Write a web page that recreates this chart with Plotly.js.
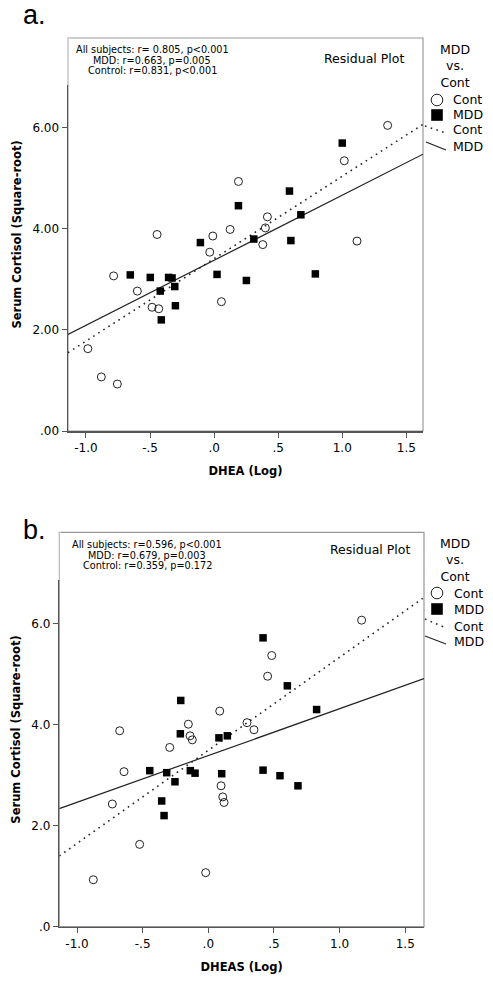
<!DOCTYPE html>
<html><head><meta charset="utf-8">
<script src="https://cdn.plot.ly/plotly-3.0.1.min.js"></script>
<style>html,body{margin:0;padding:0;background:#fff}</style>
</head><body><div id="chart" style="width:493px;height:984px"></div>
<script>
// ---------- Panel a: DHEA (Log) vs Serum Cortisol (Square-root) ----------
const dheaContX = [-0.985, -0.88, -0.755, -0.784, -0.599, -0.484, -0.432, -0.445, -0.034, -0.01, 0.057, 0.125, 0.19, 0.38, 0.40, 0.416, 1.016, 1.115, 1.354];
const dheaContY = [1.63, 1.07, 0.93, 3.07, 2.77, 2.45, 2.42, 3.89, 3.54, 3.86, 2.56, 3.99, 4.94, 3.69, 4.02, 4.24, 5.35, 3.76, 6.05];
const dheaMddX = [-0.654, -0.498, -0.355, -0.328, -0.42, -0.307, -0.302, -0.412, -0.107, 0.023, 0.19, 0.252, 0.31, 0.588, 0.599, 0.677, 0.79, 1.0];
const dheaMddY = [3.09, 3.04, 3.04, 3.03, 2.77, 2.86, 2.48, 2.20, 3.73, 3.10, 4.46, 2.98, 3.80, 4.75, 3.77, 4.28, 3.11, 5.70];

// ---------- Panel b: DHEAS (Log) vs Serum Cortisol (Square-root) ----------
const dheasContX = [-0.876, -0.731, -0.675, -0.642, -0.523, -0.294, -0.152, -0.139, -0.122, -0.02, 0.087, 0.097, 0.11, 0.12, 0.295, 0.348, 0.452, 0.483, 1.168];
const dheasContY = [0.93, 2.43, 3.88, 3.07, 1.63, 3.55, 4.01, 3.78, 3.70, 1.07, 4.27, 2.79, 2.57, 2.46, 4.04, 3.90, 4.96, 5.37, 6.07];
const dheasMddX = [-0.446, -0.355, -0.337, -0.317, -0.254, -0.213, -0.21, -0.137, -0.101, 0.081, 0.102, 0.145, 0.417, 0.417, 0.546, 0.602, 0.683, 0.825];
const dheasMddY = [3.09, 2.49, 2.20, 3.05, 2.87, 3.82, 4.48, 3.09, 3.04, 3.74, 3.03, 3.78, 5.72, 3.10, 2.99, 4.77, 2.79, 4.30];

// ---------- Texts ----------
const panelLabels = ['a.', 'b.'];
const xTitles = ['DHEA (Log)', 'DHEAS (Log)'];
const yTitle = 'Serum Cortisol (Square-root)';
const statsA = ['All subjects: r= 0.805, p<0.001', 'MDD: r=0.663, p=0.005', 'Control: r=0.831, p<0.001'];
const statsB = ['All subjects: r=0.596, p<0.001', 'MDD: r=0.679, p=0.003', 'Control: r=0.359, p=0.172'];
const plotNote = 'Residual Plot';
const legendTitle = ['MDD', 'vs.', 'Cont'];
const groupNames = ['Cont', 'MDD'];

const xTickVals = [-1, -0.5, 0, 0.5, 1, 1.5];
const xTickText = ['-1.0', '-.5', '.0', '.5', '1.0', '1.5'];
const yTickVals = [0, 2, 4, 6];
const yTickTextA = ['.00', '2.00', '4.00', '6.00'];
const yTickTextB = ['.0', '2.0', '4.0', '6.0'];

// ---------- helpers ----------
const W = 493, H = 984;
const px = v => v / W;
const py = v => 1 - v / H;
const FONT = 'DejaVu Sans';

function fit(xs, ys) {
  const n = xs.length;
  const mx = xs.reduce((a, b) => a + b, 0) / n;
  const my = ys.reduce((a, b) => a + b, 0) / n;
  let sxy = 0, sxx = 0;
  for (let i = 0; i < n; i++) { sxy += (xs[i] - mx) * (ys[i] - my); sxx += (xs[i] - mx) ** 2; }
  const b = sxy / sxx;
  return { a: my - b * mx, b };
}

const xRangeA = [-1.14, 1.63], yRangeA = [0, 7.78];
const xRangeB = [-1.135, 1.643], yRangeB = [0, 7.81];

function fitTrace(xs, ys, range, dash, xa, ya, name) {
  const f = fit(xs, ys);
  return {
    x: [range[0], range[1]], y: [f.a + f.b * range[0], f.a + f.b * range[1]],
    mode: 'lines', type: 'scatter', xaxis: xa, yaxis: ya, name, showlegend: false, hoverinfo: 'skip',
    line: dash ? { color: '#222', width: 1.6, dash: '1.6px,4.4px' } : { color: '#222', width: 1.2 }
  };
}
function ptTrace(xs, ys, isCont, xa, ya, name) {
  return {
    x: xs, y: ys, mode: 'markers', type: 'scatter', xaxis: xa, yaxis: ya, name, showlegend: false,
    marker: isCont ? { symbol: 'circle-open', size: 8, color: '#222', line: { width: 1, color: '#222' } }
                   : { symbol: 'square', size: 7.5, color: '#000' },
    cliponaxis: false
  };
}

const data = [
  fitTrace(dheaContX, dheaContY, xRangeA, true, 'x', 'y', 'Cont fit'),
  fitTrace(dheaMddX, dheaMddY, xRangeA, false, 'x', 'y', 'MDD fit'),
  ptTrace(dheaContX, dheaContY, true, 'x', 'y', groupNames[0]),
  ptTrace(dheaMddX, dheaMddY, false, 'x', 'y', groupNames[1]),
  fitTrace(dheasContX, dheasContY, xRangeB, true, 'x2', 'y2', 'Cont fit'),
  fitTrace(dheasMddX, dheasMddY, xRangeB, false, 'x2', 'y2', 'MDD fit'),
  ptTrace(dheasContX, dheasContY, true, 'x2', 'y2', groupNames[0]),
  ptTrace(dheasMddX, dheasMddY, false, 'x2', 'y2', groupNames[1])
];

function xAxis(domain, range, title, anchor) {
  return {
    domain, range, anchor, tickvals: xTickVals, ticktext: xTickText,
    ticks: 'outside', ticklen: 5, tickwidth: 1, tickcolor: '#555',
    showline: true, linecolor: '#555', linewidth: 1.5, showgrid: false, zeroline: false,
    tickfont: { family: FONT, size: 12, color: '#000' },
    title: { text: title, font: { family: FONT, size: 11.5, weight: 700, color: '#000' }, standoff: 13 }
  };
}
function yAxis(domain, range, ticktext, anchor) {
  return {
    domain, range, anchor, tickvals: yTickVals, ticktext,
    ticks: 'outside', ticklen: 5, tickwidth: 1, tickcolor: '#555',
    showline: true, linecolor: '#555', linewidth: 1.5, showgrid: false, zeroline: false,
    tickfont: { family: FONT, size: 12, color: '#000' },
    title: { text: yTitle, font: { family: FONT, size: 11.5, weight: 700, color: '#000' }, standoff: 8 }
  };
}

const annotations = [];
function ann(text, x, y, size, opts) {
  annotations.push(Object.assign({
    text, x: px(x), y: py(y), xref: 'paper', yref: 'paper', showarrow: false,
    xanchor: 'center', yanchor: 'middle', font: { family: FONT, size, color: '#000' }
  }, opts || {}));
}
const shapes = [];

function panelDecor(o) {
  // panel label
  ann(o.label, 21, o.labelY, 27, { xanchor: 'left', font: { family: 'Liberation Sans', size: 27, color: '#000' } });
  // stats lines
  o.stats.forEach((s, i) => ann(s, o.statsX, o.statsY[i], 9.7));
  ann(plotNote, o.noteX, o.noteY, 12.5);
  // frame
  shapes.push({ type: 'rect', xref: o.xa + ' domain', yref: o.ya + ' domain', x0: 0, x1: 1, y0: 0, y1: 1,
    line: { color: '#999', width: 1.2 }, layer: 'below' });
  // light part of left border beside the stats box
  shapes.push({ type: 'line', xref: o.xa + ' domain', yref: 'paper', x0: 0, x1: 0, y0: py(o.top), y1: py(o.boxBottom),
    line: { color: '#fff', width: 3 }, layer: 'above' });
  shapes.push({ type: 'line', xref: o.xa + ' domain', yref: 'paper', x0: 0, x1: 0, y0: py(o.top), y1: py(o.boxBottom),
    line: { color: '#aaa', width: 1 }, layer: 'above' });
  // legend title (three lines)
  ann(legendTitle.join('<br>'), 455, o.legTitleY, 12.5);
  const L = o.leg;
  shapes.push({ type: 'circle', xref: 'paper', yref: 'paper', x0: px(437 - 5.8), x1: px(437 + 5.8),
    y0: py(L.circ + 5.8), y1: py(L.circ - 5.8), line: { color: '#222', width: 1 }, fillcolor: '#fff' });
  shapes.push({ type: 'rect', xref: 'paper', yref: 'paper', x0: px(437 - 5.8), x1: px(437 + 5.8),
    y0: py(L.sq + 5.8), y1: py(L.sq - 5.8), line: { width: 0 }, fillcolor: '#000' });
  shapes.push({ type: 'line', xref: 'paper', yref: 'paper', x0: px(L.dot[0]), y0: py(L.dot[1]), x1: px(L.dot[2]), y1: py(L.dot[3]),
    line: { color: '#222', width: 1.6, dash: '1.6px,4.4px' } });
  shapes.push({ type: 'line', xref: 'paper', yref: 'paper', x0: px(L.sol[0]), y0: py(L.sol[1]), x1: px(L.sol[2]), y1: py(L.sol[3]),
    line: { color: '#222', width: 1.2 } });
  ann(groupNames[0], L.tx, L.circ, 12.5, { xanchor: 'left' });
  ann(groupNames[1], L.tx, L.sq, 12.5, { xanchor: 'left' });
  ann(groupNames[0], L.tx, L.dotY, 12.5, { xanchor: 'left' });
  ann(groupNames[1], L.tx, L.solY, 12.5, { xanchor: 'left' });
}

panelDecor({ label: panelLabels[0], labelY: 15, stats: statsA, statsX: 152, statsY: [50, 60, 70],
  noteX: 364, noteY: 58, xa: 'x', ya: 'y', top: 38, boxBottom: 85,
  legTitleY: 66,
  leg: { circ: 100, sq: 115, dot: [425, 126, 446, 133], sol: [426, 142, 446, 150], dotY: 130, solY: 146, tx: 451 } });
panelDecor({ label: panelLabels[1], labelY: 530, stats: statsB, statsX: 147, statsY: [544, 555, 565],
  noteX: 369.5, noteY: 549, xa: 'x2', ya: 'y2', top: 532.3, boxBottom: 580,
  legTitleY: 560,
  leg: { circ: 593, sq: 609, dot: [425, 619, 446, 628], sol: [425, 636, 446, 644], dotY: 626, solY: 641, tx: 452 } });

const layout = {
  width: W, height: H, margin: { l: 0, r: 0, t: 0, b: 0 },
  paper_bgcolor: '#fff', plot_bgcolor: '#fff', showlegend: false,
  font: { family: FONT, color: '#000' },
  xaxis: xAxis([px(68), px(423)], xRangeA, xTitles[0], 'y'),
  yaxis: yAxis([py(431), py(38)], yRangeA, yTickTextA, 'x'),
  xaxis2: xAxis([px(59.3), px(424)], xRangeB, xTitles[1], 'y2'),
  yaxis2: yAxis([py(926.7), py(532.3)], yRangeB, yTickTextB, 'x2'),
  annotations, shapes
};

Plotly.newPlot('chart', data, layout, { displayModeBar: false, staticPlot: true });
</script>
</body></html>
